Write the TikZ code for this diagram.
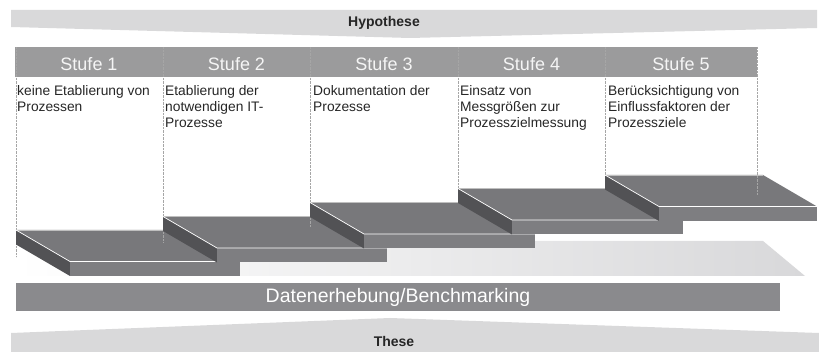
\documentclass[tikz,border=0pt]{standalone}
\usepackage{fontspec}
\setmainfont{Liberation Sans}
\definecolor{banner}{RGB}{217,217,218}
\definecolor{hdr}{RGB}{155,155,156}
\definecolor{barc}{RGB}{138,138,141}
\definecolor{topf}{RGB}{120,120,123}
\definecolor{frontf}{RGB}{126,126,129}
\definecolor{sidef}{RGB}{82,82,85}
\definecolor{refl}{RGB}{216,216,218}
\tikzset{
  bannertext/.style={font=\fontsize{14}{16}\selectfont\bfseries, text=black!85, inner sep=0pt},
  hdrtext/.style={font=\fontsize{18}{20}\selectfont, text=white!96!black, inner sep=0pt, anchor=base},
  bodytext/.style={font=\fontsize{13.8}{16.3}\selectfont, text=black!85, align=left, inner sep=0pt, anchor=north west},
  divider/.style={densely dotted, line width=0.4pt, draw=black!35},
  highlight/.style={draw=white, line width=0.7pt},
  backedge/.style={draw=black!25, line width=0.5pt}
}
\begin{document}
\begin{tikzpicture}[x=1pt,y=-1pt]
\useasboundingbox (0,0) rectangle (819,352);
% Hypothese banner
\fill[banner] (11,10) -- (817,10) -- (817,28) -- (410,38) -- (11,27) -- cycle;
\node[bannertext] (hyp) at (384,23) {Hypothese};
% header
\fill[hdr] (15,47) rectangle (757,77);
\foreach \t/\cx [count=\k] in {Stufe 1/89, Stufe 2/236.5, Stufe 3/384, Stufe 4/531.5, Stufe 5/681}
  \node[hdrtext] (stufe\k) at (\cx,70.5) {\t};
% body texts
\node[bodytext] (b1) at (17,85) {keine Etablierung von\\Prozessen};
\node[bodytext] (b2) at (165,85) {Etablierung der\\notwendigen IT-\\Prozesse};
\node[bodytext] (b3) at (313,85) {Dokumentation der\\Prozesse};
\node[bodytext] (b4) at (460,85) {Einsatz von\\Messgrößen zur\\Prozesszielmessung};
\node[bodytext] (b5) at (608,85) {Berücksichtigung von\\Einflussfaktoren der\\Prozessziele};
% reflection
\shade[left color=white, right color=refl] (16,241) -- (763,241) -- (805,276) -- (16,276) -- cycle;
% left divider
\draw[divider] (16,47) -- (16,257);
% steps with dividers
\foreach \bx/\by/\w/\lx/\ly in {16/230/170/163/242, 163/216.5/170/310/227, 310/202.5/171/458/200, 458/188.5/171/605/188, 605/175/158/757/195} {
  \fill[sidef] (\bx,\by) -- ++(54,31.5) -- ++(0,14.5) -- ++(-54,-31.5) -- cycle;
  \fill[topf] (\bx,\by) -- ++(\w,0) -- ++(54,31.5) -- ++(-\w,0) -- cycle;
  \fill[frontf] (\bx+54,\by+31.5) rectangle ++(\w,14.5);
  \draw[backedge] (\bx,\by) -- ++(\w,0);
  \draw[highlight] (\bx,\by) -- ++(54,31.5) -- ++(\w,0);
  \draw[divider] (\lx,47) -- (\lx,\ly);
}
% Datenerhebung bar
\node[fill=barc, minimum width=764pt, minimum height=28pt, inner sep=0pt,
      font=\fontsize{19.5}{22}\selectfont, text=white] (daten) at (398,297) {Datenerhebung/Benchmarking};
% These banner
\fill[banner] (11,333) -- (390,318) -- (819,333) -- (819,352) -- (11,352) -- cycle;
\node[bannertext] (these) at (394,341.5) {These};
\end{tikzpicture}
\end{document}
